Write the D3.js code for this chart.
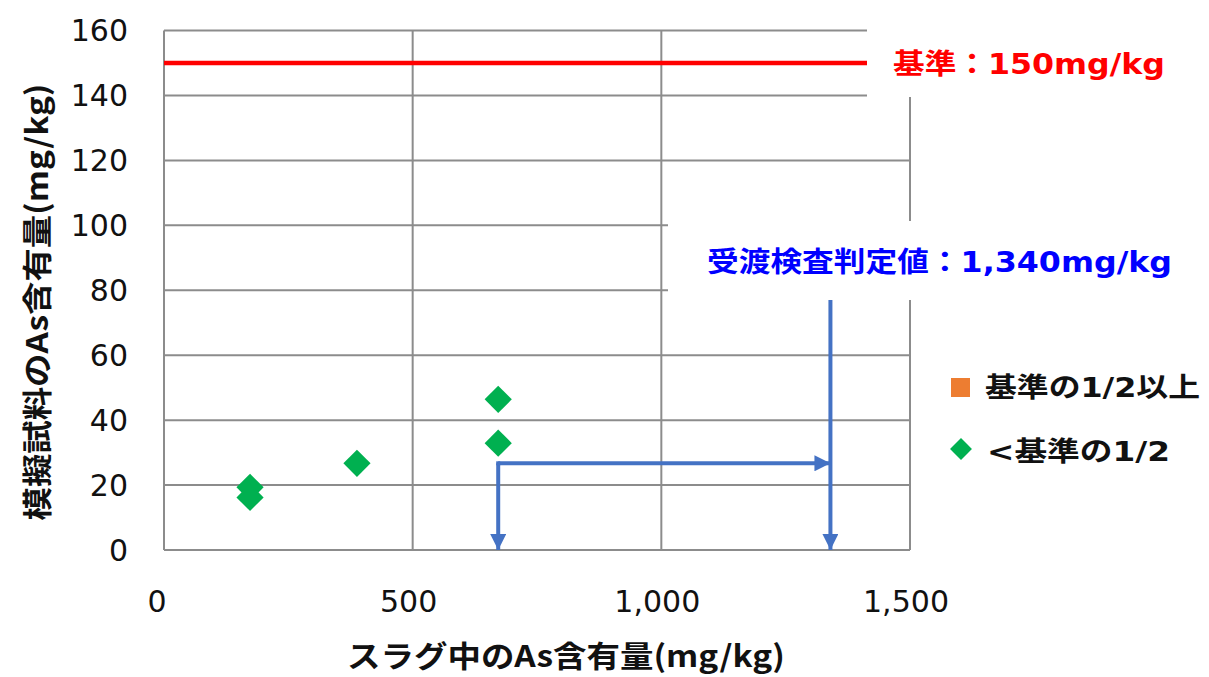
<!DOCTYPE html>
<html>
<head>
<meta charset="utf-8">
<script src="https://cdn.jsdelivr.net/npm/d3@7"></script>
<style>
  html, body { margin: 0; padding: 0; background: #fff; }
  svg { display: block; }
</style>
</head>
<body>
<svg id="chart" width="1209" height="677"></svg>
<script>
// Slag As content vs. simulated-sample As content
const slagAs = [173, 173, 388, 672, 672];          // mg/kg (x)
const sampleAs = [19.3, 16.2, 26.7, 46.4, 32.9];   // mg/kg (y)
const halfOrAbove = [];                             // no samples at or above half the standard
const standardValue = 150;                          // mg/kg
const acceptanceValue = 1340;                       // mg/kg
const xTicks = [0, 500, 1000, 1500];
const yTicks = [0, 20, 40, 60, 80, 100, 120, 140, 160];
const legendLabels = ["基準の1/2以上", "<基準の1/2"];
const standardLabel = "基準：150mg/kg";
const acceptanceLabel = "受渡検査判定値：1,340mg/kg";
const xTitle = "スラグ中のAs含有量(mg/kg)";
const yTitle = "模擬試料のAs含有量(mg/kg)";

const svg = d3.select("#chart");
const x = d3.scaleLinear().domain([0, 1500]).range([164, 910]);
const y = d3.scaleLinear().domain([0, 160]).range([550, 30.5]);

const gridColor = "#8c8c8c";
const numFont = "'DejaVu Sans', Verdana, sans-serif";
const jpFont = "'DejaVu Sans', 'Noto Sans CJK JP', sans-serif";

// grid lines
svg.append("g").selectAll("line").data(yTicks).join("line")
  .attr("x1", x(0)).attr("x2", x(1500))
  .attr("y1", d => y(d)).attr("y2", d => y(d))
  .attr("stroke", gridColor).attr("stroke-width", 2);
svg.append("g").selectAll("line").data(xTicks).join("line")
  .attr("x1", d => x(d)).attr("x2", d => x(d))
  .attr("y1", y(0)).attr("y2", y(160))
  .attr("stroke", gridColor).attr("stroke-width", 2);

// y tick labels
svg.append("g").selectAll("text").data(yTicks).join("text")
  .attr("x", 128).attr("y", d => y(d)).attr("dy", "0.36em")
  .attr("text-anchor", "end")
  .attr("font-family", numFont).attr("font-size", 30).attr("fill", "#111")
  .text(d => d);

// x tick labels
const fmt = d3.format(",");
svg.append("g").selectAll("text").data(xTicks).join("text")
  .attr("x", d => x(d) - (d === 0 ? 7 : 4)).attr("y", 612)
  .attr("text-anchor", "middle")
  .attr("font-family", numFont).attr("font-size", 30).attr("fill", "#111")
  .attr("textLength", d => d < 1000 ? null : 86).attr("lengthAdjust", "spacingAndGlyphs")
  .text(d => fmt(d));

// standard line
svg.append("line")
  .attr("x1", x(0)).attr("x2", x(1500))
  .attr("y1", y(standardValue)).attr("y2", y(standardValue))
  .attr("stroke", "#ff0000").attr("stroke-width", 4.5);

// label boxes
svg.append("rect").attr("x", 867).attr("y", 27).attr("width", 342).attr("height", 70).attr("fill", "#fff");
svg.append("rect").attr("x", 668).attr("y", 221).attr("width", 541).attr("height", 79).attr("fill", "#fff");

svg.append("text").attr("x", 893).attr("y", 74)
  .attr("font-family", jpFont).attr("font-size", 28).attr("font-weight", "bold")
  .attr("fill", "#ff0000")
  .attr("textLength", 272).attr("lengthAdjust", "spacingAndGlyphs")
  .text(standardLabel);
svg.append("text").attr("x", 707).attr("y", 272)
  .attr("font-family", jpFont).attr("font-size", 28).attr("font-weight", "bold")
  .attr("fill", "#0000ff")
  .attr("textLength", 465).attr("lengthAdjust", "spacingAndGlyphs")
  .text(acceptanceLabel);

// arrows
const blue = "#4472c4";
const defs = svg.append("defs");
defs.append("marker").attr("id", "arrowhead")
  .attr("viewBox", "0 0 10 10").attr("refX", 10).attr("refY", 5)
  .attr("markerUnits", "userSpaceOnUse")
  .attr("markerWidth", 17).attr("markerHeight", 16).attr("orient", "auto")
  .append("path").attr("d", "M0,0L10,5L0,10Z").attr("fill", blue);

const startX = slagAs[3], startY = sampleAs[2];
const arrows = [
  [[startX, startY], [startX, 0]],
  [[startX, startY], [acceptanceValue, startY]],
  [[acceptanceValue, 77], [acceptanceValue, 0]]
];
svg.append("g").selectAll("path").data(arrows).join("path")
  .attr("d", d => d3.line().x(p => x(p[0])).y(p => y(p[1])).curve(d3.curveLinear)(d))
  .attr("stroke", blue).attr("stroke-width", 4).attr("fill", "none")
  .attr("stroke-linecap", "butt")
  .attr("marker-end", "url(#arrowhead)");
// square off the corner where the two arrows meet
svg.append("rect")
  .attr("x", x(startX) - 2).attr("y", y(startY) - 2).attr("width", 4).attr("height", 4).attr("fill", blue);

// points
const diamond = d3.symbol().type(d3.symbolSquare).size(370);
svg.append("g").selectAll("path").data(slagAs.map((v, i) => [v, sampleAs[i]])).join("path")
  .attr("transform", d => `translate(${x(d[0])},${y(d[1])}) rotate(45)`)
  .attr("d", diamond).attr("fill", "#00b050");
svg.append("g").selectAll("rect").data(halfOrAbove).join("rect");

// legend
svg.append("rect").attr("x", 951).attr("y", 378).attr("width", 19).attr("height", 19).attr("fill", "#ed7d31");
svg.append("path").attr("transform", "translate(961,449) rotate(45)")
  .attr("d", d3.symbol().type(d3.symbolSquare).size(240)).attr("fill", "#00b050");
svg.append("g").selectAll("text").data(legendLabels).join("text")
  .attr("x", (d, i) => 985 + i * 2).attr("y", (d, i) => 397 + i * 64)
  .attr("font-family", jpFont).attr("font-size", 27).attr("font-weight", "bold").attr("fill", "#111")
  .attr("textLength", (d, i) => i === 0 ? 215 : 183).attr("lengthAdjust", "spacingAndGlyphs")
  .text(d => d);

// axis titles
svg.append("text").attr("x", 566).attr("y", 667).attr("text-anchor", "middle")
  .attr("font-family", "'Noto Sans CJK JP', sans-serif").attr("font-size", 30).attr("font-weight", "bold")
  .attr("fill", "#111")
  .attr("textLength", 438).attr("lengthAdjust", "spacingAndGlyphs")
  .text(xTitle);
svg.append("text").attr("transform", "translate(48,302) rotate(-90)").attr("text-anchor", "middle")
  .attr("font-family", "'Noto Sans CJK JP', sans-serif").attr("font-size", 30).attr("font-weight", "bold")
  .attr("fill", "#111")
  .attr("textLength", 437).attr("lengthAdjust", "spacingAndGlyphs")
  .text(yTitle);
</script>
</body>
</html>
